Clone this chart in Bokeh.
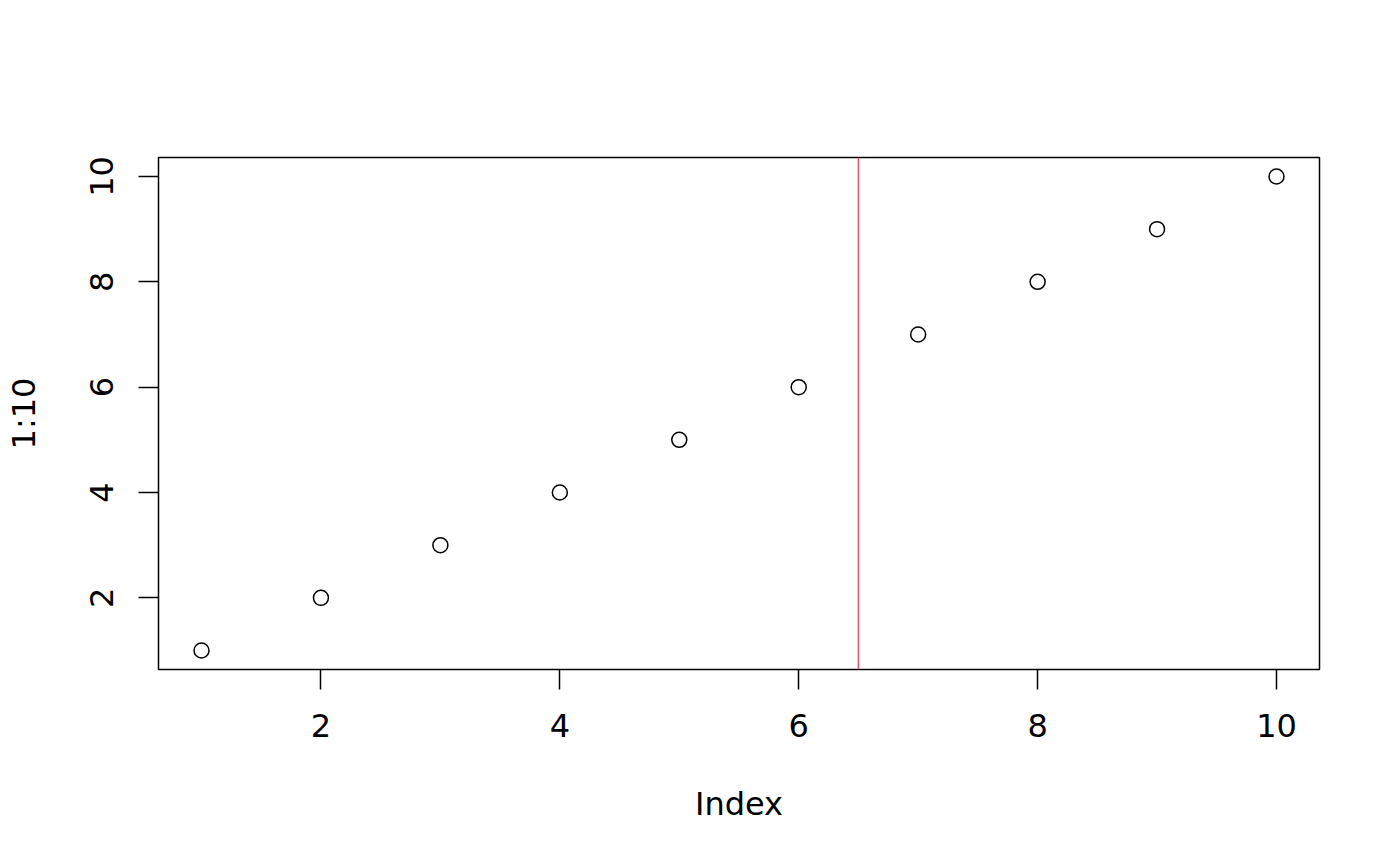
from bokeh.plotting import figure
from bokeh.models import Range1d, FixedTicker, Span
from bokeh.embed import file_html
from bokeh.resources import INLINE

# data: plot(1:10); abline(v=6.5, col=2)
index_values = [1, 2, 3, 4, 5, 6, 7, 8, 9, 10]
y_values = [1, 2, 3, 4, 5, 6, 7, 8, 9, 10]
x_ticks = [2, 4, 6, 8, 10]
y_ticks = [2, 4, 6, 8, 10]
vline_at = 6.5

FONT = "DejaVu Sans"
FONT_SIZE = "32px"

p = figure(
    width=1392,
    height=858,
    x_range=Range1d(0.64, 10.36),
    y_range=Range1d(0.64, 10.36),
    x_axis_label="Index",
    y_axis_label="1:10",
    output_backend="svg",
    toolbar_location=None,
    min_border_left=158,
    min_border_right=73,
    min_border_top=157,
    min_border_bottom=189,
)
p.outline_line_color = "black"
p.outline_line_width = 1.5
p.xgrid.visible = False
p.ygrid.visible = False
p.background_fill_color = "white"
p.border_fill_color = "white"

p.xaxis.ticker = FixedTicker(ticks=x_ticks)
p.yaxis.ticker = FixedTicker(ticks=y_ticks)

for ax in (p.xaxis, p.yaxis):
    ax.axis_line_color = None
    ax.major_tick_line_color = "black"
    ax.major_tick_line_width = 1.5
    ax.major_tick_out = 20
    ax.major_tick_in = 0
    ax.minor_tick_line_color = None
    ax.major_label_text_font = FONT
    ax.major_label_text_font_size = FONT_SIZE
    ax.major_label_text_color = "black"
    ax.axis_label_text_font = FONT
    ax.axis_label_text_font_size = FONT_SIZE
    ax.axis_label_text_font_style = "normal"
    ax.axis_label_text_color = "black"

p.xaxis.major_label_standoff = 24
p.xaxis.axis_label_standoff = 45
p.yaxis.major_label_orientation = "parallel"
p.yaxis.major_label_standoff = 25
p.yaxis.axis_label_standoff = 45

p.scatter(index_values, y_values, marker="circle", size=15,
          fill_color=None, line_color="black", line_width=1.5)

p.add_layout(Span(location=vline_at, dimension="height",
                  line_color="#DF536B", line_width=1.5))

open("out.html", "w").write(file_html(p, INLINE))
